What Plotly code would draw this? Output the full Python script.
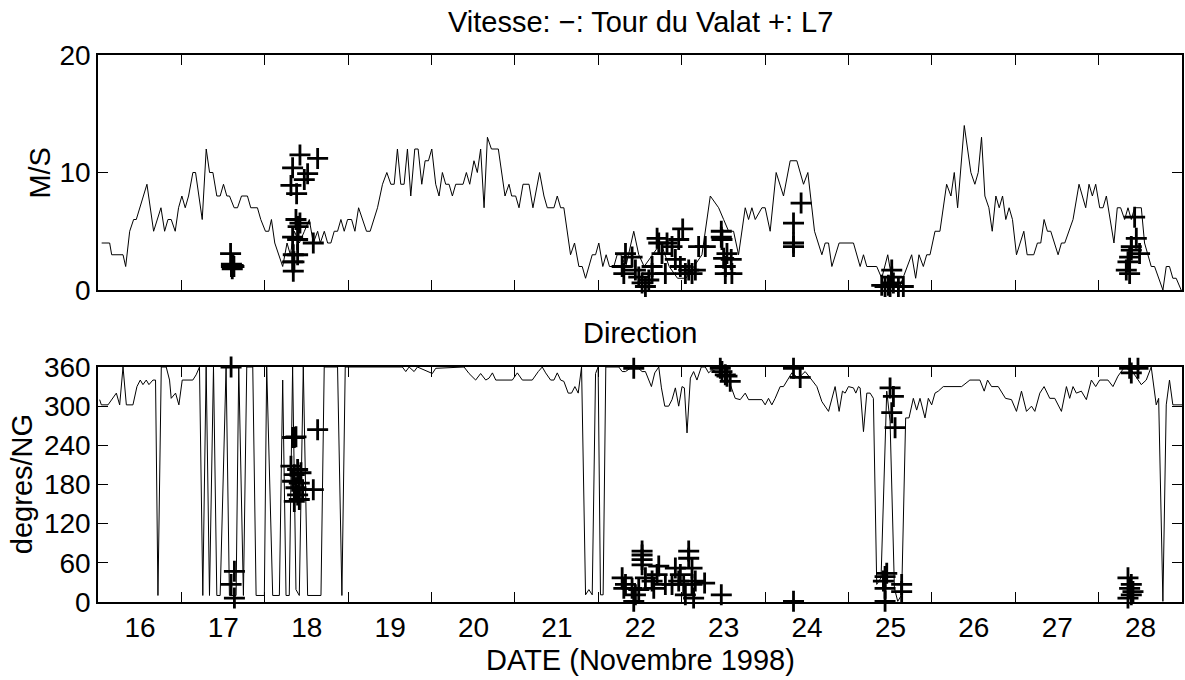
import plotly.graph_objects as go

# ---------------- data ----------------
speed_day = [16.044,16.140,16.164,16.300,16.332,16.380,16.427,16.459,16.587,16.667,
             16.755,16.799,16.839,16.878,16.926,16.966,17.006,17.046,17.086,17.138,
             17.170,17.250,17.298,17.338,17.378,17.425,17.465,17.505,17.545,17.577,
             17.633,17.673,17.721,17.792,17.832,17.912,17.952,18.008,18.048,18.080,
             18.120,18.215,18.267,18.307,18.355,18.415,18.475,18.534,18.582,18.634,
             18.666,18.714,18.754,18.793,18.833,18.873,18.913,18.953,18.993,19.041,
             19.081,19.125,19.220,19.264,19.352,19.412,19.464,19.512,19.552,19.591,
             19.631,19.671,19.711,19.751,19.799,19.839,19.883,19.923,19.963,20.003,
             20.050,20.090,20.130,20.170,20.210,20.250,20.290,20.378,20.418,20.458,
             20.509,20.549,20.589,20.630,20.670,20.718,20.801,20.881,20.929,20.961,
             21.009,21.049,21.097,21.169,21.216,21.296,21.348,21.388,21.468,21.508,
             21.548,21.587,21.667,21.715,21.767,21.807,21.847,21.927,21.967,22.006,
             22.054,22.094,22.134,22.186,22.226,22.270,22.330,22.425,22.485,22.550,
             22.650,22.750,22.850,22.950,23.050,23.150,23.243,23.343,23.443,23.503,
             23.563,23.622,23.682,23.762,23.802,23.842,23.882,23.962,24.001,24.061,
             24.133,24.221,24.301,24.381,24.461,24.513,24.593,24.681,24.721,24.761,
             24.801,24.888,25.060,25.140,25.180,25.220,25.339,25.399,25.471,25.519,
             25.600,25.758,25.806,25.846,25.898,25.938,25.978,26.038,26.097,26.177,
             26.229,26.269,26.309,26.389,26.468,26.516,26.556,26.596,26.636,26.684,
             26.724,26.768,26.808,26.848,26.887,26.927,26.967,27.015,27.055,27.103,
             27.143,27.222,27.266,27.306,27.346,27.386,27.426,27.514,27.554,27.594,
             27.693,27.765,27.845,27.885,27.925,27.965,28.013,28.053,28.093,28.184,
             28.224,28.264,28.312,28.352,28.392,28.432,28.512,28.551,28.631,28.671,
             28.771,28.811,28.850,28.890,28.930,28.990]
speed_ms = [4,4,3,3,2,5,6,6,9,5,
            7,5,6,6,5,7,8,7,8,10,
            10,6,12,10,10,8,8,9,8,8,
            7,7,8,8,7,7,6,5,5,6,
            4,2,4,3,5,4,5,6,4,5,
            4,5,4,4,5,5,6,5,6,6,
            5,7,5,5,7,9,10,9,9,12,
            9,9,12,8,12,12,9,11,11,12,
            9,8,10,9,9,8,9,9,10,9,
            11,10,12,7,13,12,12,8,9,8,
            8,7,9,9,7,10,8,7,7,8,
            7,7,3,4,2,2,1,3,3,4,
            2,3,2,2,3,3,2,5,3,2,
            3,4,2,1,1,2,3,8,7,6,
            5,5,3,7,6,7,6,7,7,5,
            10,8,11,11,9,10,5,3,4,4,
            2,4,4,2,3,2,2,1,3,1,
            0,3,1,3,2,3,3,5,5,9,
            8,10,7,14,10,9,10,13,8,7,
            5,8,7,8,6,7,6,3,4,5,
            3,3,4,4,6,5,5,3,4,4,
            6,9,7,9,8,9,7,7,8,4,
            7,7,6,7,6,7,7,4,2,2,
            0,2,2,1,1,0]

l7_speed_day = [17.590,17.600,17.620,17.630,17.610,17.600,
                18.422,18.334,18.514,18.474,18.634,18.314,18.382,18.374,18.422,18.334,
                18.394,18.400,18.582,18.342,18.394,18.334,18.350,18.342,
                22.326,22.286,22.306,22.405,22.445,22.485,22.525,22.565,22.605,22.645,
                22.645,22.705,22.725,22.764,22.804,22.824,22.884,22.924,22.964,23.012,
                22.984,23.044,23.084,23.124,23.164,23.203,23.283,
                23.475,23.475,23.483,23.503,23.523,23.543,23.523,23.594,23.602,
                24.341,24.432,24.341,24.341,
                25.399,25.439,25.499,25.539,25.519,25.519,25.599,25.658,25.479,
                28.432,28.452,28.491,28.392,28.372,28.352,28.332,28.372,28.392]
l7_speed_ms = [3.1,2.0,2.1,2.0,1.8,2.2,
               11.5,10.4,9.9,9.4,11.2,8.9,8.2,6.0,5.7,4.5,
               4.3,5.4,4.0,3.0,3.0,2.4,2.4,1.6,
               3.1,2.0,1.4,2.8,1.7,1.1,0.6,0.3,0.85,1.4,
               2.0,4.4,4.0,3.1,1.4,4.0,3.7,2.6,4.3,5.2,
               2.0,1.4,1.7,1.4,1.7,3.7,3.7,
               5.0,4.5,4.3,2.7,2.0,3.1,1.4,2.6,1.4,
               5.7,7.4,4.0,3.7,
               0.4,0.3,0.3,0.6,1.7,1.1,0.3,0.3,0.4,
               6.2,4.4,3.1,3.7,2.8,2.4,1.7,1.4,3.4]

dir_day = [16.020,16.040,16.120,16.220,16.260,16.300,16.340,16.419,16.467,16.507,
           16.539,16.579,16.611,16.659,16.690,16.719,16.759,16.818,16.858,16.878,
           16.930,16.970,17.010,17.137,17.177,17.217,17.257,17.297,17.337,17.385,
           17.425,17.465,17.536,17.576,17.656,17.688,17.744,17.784,17.856,17.896,
           17.995,18.023,18.095,18.175,18.215,18.255,18.294,18.334,18.374,18.414,
           18.462,18.514,18.674,18.713,18.873,18.925,18.965,19.650,19.691,19.731,
           19.791,19.831,20.010,20.050,20.390,20.450,20.529,20.589,20.650,20.690,
           20.730,20.770,20.969,21.029,21.089,21.208,21.280,21.328,21.368,21.428,
           21.468,21.508,21.548,21.587,21.639,21.679,21.719,21.759,21.799,21.847,
           21.887,21.927,21.967,21.998,22.026,22.058,22.090,22.134,22.246,22.286,
           22.326,22.405,22.465,22.525,22.565,22.637,22.677,22.725,22.757,22.797,
           22.844,22.884,22.924,22.964,23.004,23.032,23.064,23.104,23.143,23.183,
           23.235,23.283,23.323,23.363,23.443,23.523,23.563,23.642,23.702,23.762,
           23.802,23.962,24.001,24.041,24.081,24.121,24.181,24.221,24.321,24.400,
           24.481,24.561,24.621,24.681,24.761,24.840,24.888,24.928,24.960,25.000,
           25.060,25.088,25.120,25.140,25.180,25.220,25.260,25.299,25.339,25.391,
           25.459,25.499,25.551,25.591,25.638,25.686,25.726,25.778,25.818,25.858,
           25.918,25.958,25.998,26.038,26.077,26.137,26.277,26.357,26.456,26.576,
           26.628,26.668,26.716,26.796,26.883,26.955,27.015,27.075,27.135,27.195,
           27.235,27.295,27.346,27.414,27.474,27.554,27.614,27.653,27.693,27.733,
           27.793,27.853,27.913,27.965,28.013,28.112,28.172,28.232,28.312,28.392,
           28.432,28.512,28.571,28.631,28.691,28.720,28.771,28.811,28.850,28.890,
           29.000]
dir_deg = [310,302,302,320,302,360,302,302,330,340,
           333,340,333,340,340,10,360,360,340,312,
           320,302,340,340,348,360,10,360,10,360,
           10,10,360,10,10,360,10,360,360,10,
           10,360,10,10,340,10,10,360,19,10,
           360,10,10,360,360,10,360,360,353,360,
           353,360,350,358,360,350,340,350,340,343,
           351,340,340,351,340,340,353,360,351,340,
           340,351,340,338,320,320,330,320,360,11,
           19,11,350,360,11,11,360,360,360,353,
           353,360,360,353,353,330,351,360,328,300,
           300,310,328,300,330,328,259,343,353,340,
           360,360,351,356,351,343,340,312,310,320,
           310,310,302,312,302,312,330,330,351,343,
           353,340,330,307,292,330,292,323,320,330,
           328,320,330,328,261,320,320,312,27,37,
           323,277,21,1,11,282,282,312,294,312,
           282,312,302,320,323,330,330,330,340,340,
           323,340,330,330,312,310,292,323,292,300,
           292,320,330,312,312,292,330,312,330,320,
           323,310,340,330,340,340,330,346,360,356,
           348,333,340,360,302,312,1,302,340,302,
           302]

l7_dir_day = [17.596,17.636,17.596,17.636,
              18.334,18.354,18.374,18.634,18.314,18.394,18.354,18.434,18.334,18.414,
              18.374,18.454,18.394,18.354,18.582,18.414,
              22.425,22.525,22.525,22.525,22.525,22.286,22.326,22.306,22.405,22.445,
              22.425,22.485,22.565,22.645,22.665,22.705,22.725,22.804,22.884,22.924,
              22.964,22.984,23.024,23.044,23.084,23.084,23.124,23.143,23.124,23.163,
              23.275,23.475,23.463,23.483,23.523,23.582,23.543,
              24.341,24.341,24.421,
              25.499,25.539,25.519,25.559,25.459,25.439,25.419,25.439,25.439,25.638,25.638,
              28.372,28.472,28.392,28.352,28.392,28.372,28.412,28.352,28.392]
l7_dir_deg = [360,47,27,6,
              252,252,253,264,208,203,195,198,185,182,
              175,172,164,154,172,157,
              358,78,72,65,57,37,27,21,21,11,
              1,19,37,32,21,42,55,27,27,52,
              32,42,27,11,78,67,52,6,27,32,
              29,11,358,353,348,338,346,
              358,1,344,
              328,315,290,267,44,39,32,21,1,27,16,
              358,358,351,37,27,21,16,6,11]

day_ticks = list(range(16, 29))
day_labels = [str(d) for d in day_ticks]
speed_ticks = [0, 10, 20]
dir_ticks = [0, 60, 120, 180, 240, 300, 360]

# ---------------- figure ----------------
FONT = "Liberation Sans, Arial, Helvetica, sans-serif"
W, H = 1185, 680
ML, MR, MT, MB = 98, 1, 55, 78
PW, PH = W - ML - MR, H - MT - MB

def px(X):
    return (X - ML) / PW

def py(Y):
    return (H - MB - Y) / PH

line_style = dict(color="black", width=1)
marker_style = dict(symbol="cross-thin", size=15, color="black",
                    line=dict(color="black", width=2.8))

fig = go.Figure()
fig.add_trace(go.Scatter(x=speed_day, y=speed_ms, mode="lines", line=line_style,
                         xaxis="x", yaxis="y", showlegend=False, hoverinfo="skip"))
fig.add_trace(go.Scatter(x=l7_speed_day, y=l7_speed_ms, mode="markers", marker=marker_style,
                         xaxis="x", yaxis="y", showlegend=False, cliponaxis=False))
fig.add_trace(go.Scatter(x=dir_day, y=dir_deg, mode="lines", line=line_style,
                         xaxis="x2", yaxis="y2", showlegend=False, hoverinfo="skip"))
fig.add_trace(go.Scatter(x=l7_dir_day, y=l7_dir_deg, mode="markers", marker=marker_style,
                         xaxis="x2", yaxis="y2", showlegend=False, cliponaxis=False))

tickfont = dict(family=FONT, size=28, color="black")
xcommon = dict(range=[16, 29], tickmode="array", tickvals=day_ticks, ticktext=day_labels,
               ticks="inside", ticklen=10, tickwidth=1.2, tickcolor="black",
               showline=True, linecolor="black", linewidth=1.5, mirror="ticks",
               showgrid=False, zeroline=False, tickfont=tickfont,
               ticklabelshift=int(round(PW / 13 / 2)))
ycommon = dict(ticks="inside", ticklen=10, tickwidth=1.2, tickcolor="black",
               showline=True, linecolor="black", linewidth=1.5, mirror="ticks",
               showgrid=False, zeroline=False, tickfont=tickfont, tickmode="array")

top_lo = py(290)
bot_hi = py(367)

fig.update_layout(
    width=W, height=H,
    margin=dict(l=ML, r=MR, t=MT, b=MB),
    paper_bgcolor="white", plot_bgcolor="white",
    font=dict(family=FONT, size=28, color="black"),
    xaxis=dict(domain=[0, 1], anchor="y", showticklabels=False, **xcommon),
    yaxis=dict(domain=[top_lo, 1], anchor="x", range=[0, 20], tickvals=speed_ticks, **ycommon),
    xaxis2=dict(domain=[0, 1], anchor="y2", showticklabels=True, **xcommon),
    yaxis2=dict(domain=[0, bot_hi], anchor="x2", range=[0, 360], tickvals=dir_ticks, **ycommon),
)

ann_font = dict(family=FONT, size=29, color="black")
fig.add_annotation(text="Vitesse: \u2212: Tour du Valat +: L7", x=0.5, y=py(22),
                   xref="paper", yref="paper", xanchor="center", yanchor="middle",
                   showarrow=False, font=ann_font)
fig.add_annotation(text="Direction", x=0.5, y=py(333),
                   xref="paper", yref="paper", xanchor="center", yanchor="middle",
                   showarrow=False, font=ann_font)
fig.add_annotation(text="DATE (Novembre 1998)", x=0.5, y=py(660),
                   xref="paper", yref="paper", xanchor="center", yanchor="middle",
                   showarrow=False, font=ann_font)
fig.add_annotation(text="M/S", x=px(39), y=py(172.5), textangle=-90,
                   xref="paper", yref="paper", xanchor="center", yanchor="middle",
                   showarrow=False, font=ann_font)
fig.add_annotation(text="degres/NG", x=px(22), y=py(484), textangle=-90,
                   xref="paper", yref="paper", xanchor="center", yanchor="middle",
                   showarrow=False, font=ann_font)

fig.write_html("out.html")
